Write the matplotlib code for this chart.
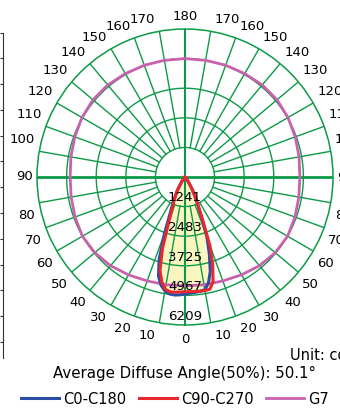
import numpy as np
import matplotlib.pyplot as plt

# intensity rings (cd) and angle grid
ring_values = [1241, 2483, 3725, 4967, 6209]
spoke_angles = [10, 20, 30, 40, 50, 60, 70, 80, 100, 110, 120, 130, 140, 150, 160, 170]

# gamma angles (deg from nadir) and intensities
gamma = [0, 2.5, 5, 7.5, 10, 12.5, 15, 17.5, 20, 22.5, 25, 27.5, 30, 35, 40, 45, 90, 180]
c0 = [4900, 4880, 4860, 4840, 4800, 4550, 4100, 3400, 2700, 1800, 1250, 880, 620, 250, 60, 0, 0, 0]
c180 = [4900, 4950, 4970, 4950, 4850, 4650, 4300, 3600, 2500, 1600, 1200, 860, 630, 255, 60, 0, 0, 0]
c90 = [4810, 4815, 4820, 4830, 4840, 4820, 4550, 3870, 3050, 1900, 1250, 870, 620, 250, 60, 0, 0, 0]
c270 = [4810, 4830, 4850, 4860, 4780, 4500, 4050, 3150, 1950, 1350, 1100, 830, 610, 250, 60, 0, 0, 0]

g7_angles = [0, 10, 20, 30, 40, 50, 60, 70, 80, 90, 100, 110, 120, 130, 140, 150, 160, 170, 180]
g7_values = [4570, 4590, 4640, 4740, 4860, 4940, 4970, 4910, 4850, 4820, 4860, 4920, 4990, 5040, 5040, 5010, 4990, 4970, 4967]

GREEN = '#0c9a46'
BLUE = '#2a4ea6'
RED = '#e8282c'
MAGENTA = '#c862ac'
FILL = '#fbf5c2'


def full_curve(angles, right, left):
    """Join the left half (negative angles) and the right half into one curve."""
    a = np.array(angles, dtype=float)
    th = np.concatenate([-a[::-1], a[1:]])
    r = np.concatenate([np.array(left)[::-1], np.array(right)[1:]])
    return np.radians(th), r


plt.rcParams['font.family'] = 'DejaVu Sans'
fig = plt.figure(figsize=(3.4, 4.08), dpi=100)

# neighbouring panel edge on the left
axl = fig.add_axes([3 / 340, 50 / 408, 0.05, 325.5 / 408])
axl.set_ylim(-0.62, 12)
axl.set_yticks(np.arange(0, 13))
axl.set_yticklabels([])
axl.set_xticks([])
for s in ['top', 'right', 'bottom']:
    axl.spines[s].set_visible(False)
axl.spines['left'].set_color('#333333')
axl.tick_params(axis='y', length=2.5, width=0.8, color='#333333', direction='out')
axl.patch.set_alpha(0)

R = 148
ax = fig.add_axes([(185 - R) / 340, (408 - 177 - R) / 408, 2 * R / 340, 2 * R / 408],
                  projection='polar')
ax.set_theta_zero_location('S')
ax.set_rlim(0, ring_values[-1])
ax.set_xticks([])
ax.set_yticks([])
ax.grid(False)
ax.spines['polar'].set_color(GREEN)
ax.spines['polar'].set_linewidth(1.1)

th_b, r_b = full_curve(gamma, c0, c180)
th_r, r_r = full_curve(gamma, c90, c270)
ax.fill(th_b, r_b, color=FILL, zorder=1, lw=0)
ax.fill(th_r, r_r, color=FILL, zorder=1, lw=0)

# grid
circ = np.linspace(0, 2 * np.pi, 361)
for v in ring_values[:-1]:
    ax.plot(circ, np.full_like(circ, v), color=GREEN, lw=1.0, zorder=2)
for a in spoke_angles:
    for sgn in (1, -1):
        ax.plot([np.radians(sgn * a)] * 2, [ring_values[0], ring_values[-1]],
                color=GREEN, lw=1.0, zorder=2)
ax.plot([0, 0], [0, ring_values[-1]], color=GREEN, lw=1.5, zorder=2)
ax.plot([np.pi, np.pi], [0, ring_values[-1]], color=GREEN, lw=1.5, zorder=2)
ax.plot([np.pi / 2] * 2, [0, ring_values[-1]], color=GREEN, lw=2.0, zorder=2)
ax.plot([-np.pi / 2] * 2, [0, ring_values[-1]], color=GREEN, lw=2.0, zorder=2)

th_g, r_g = full_curve(g7_angles, g7_values, g7_values)
lg7, = ax.plot(th_g, r_g, color=MAGENTA, lw=2.0, zorder=3, label='G7')
lb, = ax.plot(th_b, r_b, color=BLUE, lw=2.2, zorder=4, label='C0-C180')
lr, = ax.plot(th_r, r_r, color=RED, lw=2.2, zorder=5, label='C90-C270')

# intensity labels
for v in ring_values:
    ax.text(0, v - 360, str(v), ha='center', va='center', fontsize=9.6, zorder=6)

# angle labels
for a in spoke_angles + [90]:
    if a < 90:
        va, dy = 'top', -6
    elif a > 90:
        va, dy = 'bottom', 5
    else:
        va, dy = 'center', 0
    ax.annotate(str(a), xy=(np.radians(-a), ring_values[-1]), xytext=(-4, dy),
                textcoords='offset pixels', ha='right', va=va, fontsize=9.5,
                annotation_clip=False)
    ax.annotate(str(a), xy=(np.radians(a), ring_values[-1]), xytext=(4, dy),
                textcoords='offset pixels', ha='left', va=va, fontsize=9.5,
                annotation_clip=False)
ax.annotate('0', xy=(0, ring_values[-1]), xytext=(0, -8), textcoords='offset pixels',
            ha='center', va='top', fontsize=9.5, annotation_clip=False)
ax.annotate('180', xy=(np.pi, ring_values[-1]), xytext=(0, 6), textcoords='offset pixels',
            ha='center', va='bottom', fontsize=9.5, annotation_clip=False)

fig.text(290 / 340, 1 - 355 / 408, 'Unit: cd', ha='left', va='center', fontsize=10.5)
fig.text(53 / 340, 1 - 373 / 408, 'Average Diffuse Angle(50%): 50.1°',
         ha='left', va='center', fontsize=10.8)

fig.legend(handles=[lb, lr, lg7], loc='center left', bbox_to_anchor=(21 / 340, 9 / 408),
           ncol=3, frameon=False, fontsize=10.5, handlelength=2.6, handletextpad=0.3,
           columnspacing=0.85, borderpad=0, borderaxespad=0)

fig.savefig('out.png', dpi=100)
